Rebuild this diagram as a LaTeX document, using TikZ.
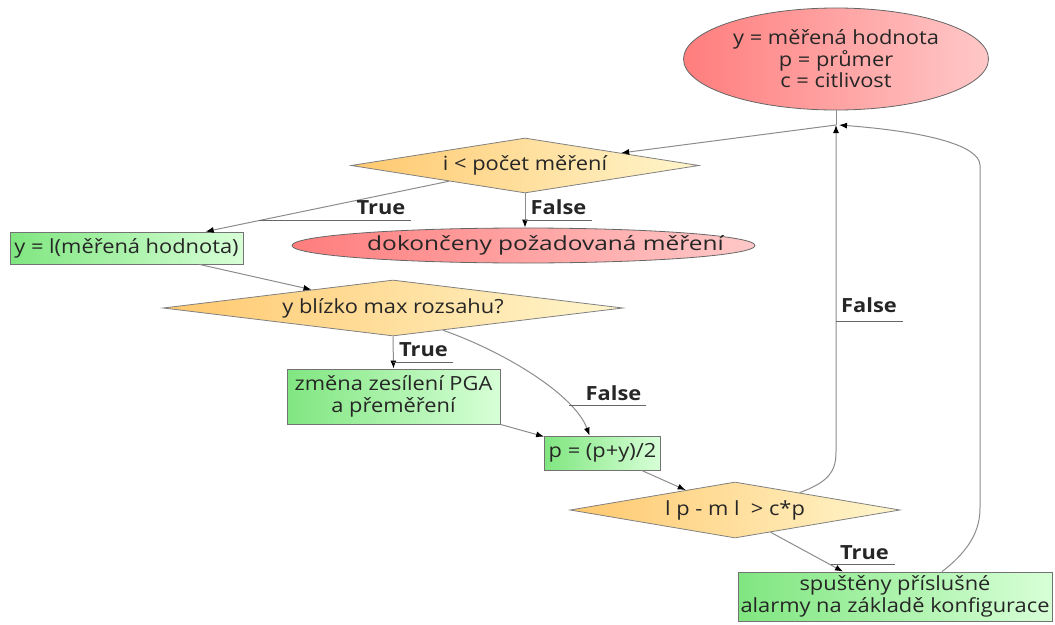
\documentclass[tikz,border=0pt]{standalone}
\usepackage{fontspec}
\setmainfont{Open Sans}[FakeStretch=1.12]
\usetikzlibrary{shapes.geometric,arrows.meta}
\definecolor{redL}{RGB}{255,125,125}
\definecolor{redR}{RGB}{255,200,200}
\definecolor{orangeL}{RGB}{255,200,110}
\definecolor{orangeR}{RGB}{255,246,205}
\definecolor{greenL}{RGB}{128,230,128}
\definecolor{greenR}{RGB}{215,255,215}
\begin{document}
\begin{tikzpicture}[x=1pt, y=-1pt,
  font=\fontsize{19.5}{21.5}\selectfont,
  every node/.style={text=black!85, align=center},
  flow/.style={draw=black!45, line width=1pt, -{Latex[length=8pt,width=6pt,color=black]}},
  plain/.style={draw=black!45, line width=1pt},
  uline/.style={draw=black!60, line width=0.9pt},
  proc/.style={rectangle, draw=black!55, line width=0.8pt, left color=greenL, right color=greenR, inner sep=0pt},
  decision/.style={diamond, draw=black!50, line width=0.8pt, left color=orangeL, right color=orangeR, inner sep=0pt},
  terminal/.style={ellipse, draw=black!60, line width=0.8pt, left color=redL, right color=redR, inner sep=0pt},
  lbl/.style={font=\fontsize{19.5}{21.5}\selectfont\bfseries, inner sep=0pt, anchor=base}]
  \useasboundingbox (0,0) rectangle (1055,624);

  % Terminals
  \node[terminal, minimum width=305pt, minimum height=102pt] (ellStart) at (836,59)
    {y = měřená hodnota\\ p = průmer\\ c = citlivost};
  \node[terminal, minimum width=463pt, minimum height=35pt] (ellDone) at (523.5,245.5)
    {\makebox[0pt]{\hspace*{44pt}\scalebox{1.12}[1]{dokončeny požadovaná měření}}};
  \coordinate (junction) at (836,125);

  % Decisions
  \node[decision, aspect=6.3, minimum width=348pt, minimum height=55pt] (decLoop) at (525,165.5) {i < počet měření};
  \node[decision, aspect=8.2, minimum width=460pt, minimum height=56pt] (decRange) at (393,308) {y blízko max rozsahu?};
  \node[decision, aspect=5.9, minimum width=330pt, minimum height=56pt] (decDiff) at (735,510) {l p - m l\ \ > c*p};

  % Processes
  \node[proc, minimum width=233pt, minimum height=32pt] (boxRead) at (126.5,248) {y = l(měřená hodnota)};
  \node[proc, minimum width=213pt, minimum height=55pt] (boxGain) at (393.5,396.5) {změna zesílení PGA\\ a přeměření};
  \node[proc, minimum width=116pt, minimum height=34pt] (boxAvg) at (602.5,453) {p = (p+y)/2};
  \node[proc, minimum width=314pt, minimum height=49pt] (boxAlarm) at (895,596.5)
    {spuštěny příslušné\\ alarmy na základě konfigurace};

  % Main flow
  \draw[plain] (ellStart.south) -- (junction);
  \draw[flow] (junction) -- (decLoop);
  \draw[flow] (decLoop) -- coordinate[pos=0.78] (cTrueA) (boxRead);
  \draw[flow] (decLoop.south) -- coordinate[pos=0.8] (cFalseA) (decLoop.south |- ellDone.north);
  \draw[flow] (boxRead) -- (decRange);
  \draw[flow] (decRange.south) -- coordinate[pos=0.82] (cTrueB) (boxGain.north);
  \draw[flow] (decRange.-24) .. controls (505,352) and (575,395) .. coordinate[pos=0.75] (cFalseB) ([xshift=-13pt]boxAvg.north);
  \draw[flow] (boxGain.south east) -- ([yshift=-1pt]boxAvg.north west);
  \draw[flow] (boxAvg.-24) -- (decDiff.158);
  \draw[flow] (decDiff.-32) -- coordinate[pos=0.83] (cTrueC) ([xshift=-52pt]boxAlarm.north);

  % Loops back
  \draw[flow] (decDiff.15) .. controls (828,482) and (836,472) .. (836,452)
    -- coordinate[pos=0.4] (cFalseC) (junction);
  \draw[flow] ([xshift=47pt]boxAlarm.north) .. controls (970,550) and (980,530) .. (980,508)
    -- (980,165) .. controls (979,146) and (930,132) .. ([xshift=3pt]junction);

  % Branch labels
  \node[lbl] (lblTrueA) at (381,214) {True};
  \node[lbl] (lblFalseA) at (558.5,214) {False};
  \node[lbl] (lblTrueB) at (423.5,356) {True};
  \node[lbl] (lblFalseB) at (613.5,400) {False};
  \node[lbl] (lblTrueC) at (864.5,559) {True};
  \node[lbl] (lblFalseC) at (869,312) {False};
  \draw[uline] (cTrueA) -- ([xshift=5pt]cTrueA -| lblTrueA.east);
  \draw[uline] (cFalseA) -- ([xshift=5pt]cFalseA -| lblFalseA.east);
  \draw[uline] (cTrueB) -- ([xshift=5pt]cTrueB -| lblTrueB.east);
  \draw[uline] (cFalseB) -- ([xshift=4pt]cFalseB -| lblFalseB.east);
  \draw[uline] (cTrueC) -- ([xshift=6pt]cTrueC -| lblTrueC.east);
  \draw[uline] (cFalseC) -- ([xshift=6pt]cFalseC -| lblFalseC.east);
\end{tikzpicture}
\end{document}
